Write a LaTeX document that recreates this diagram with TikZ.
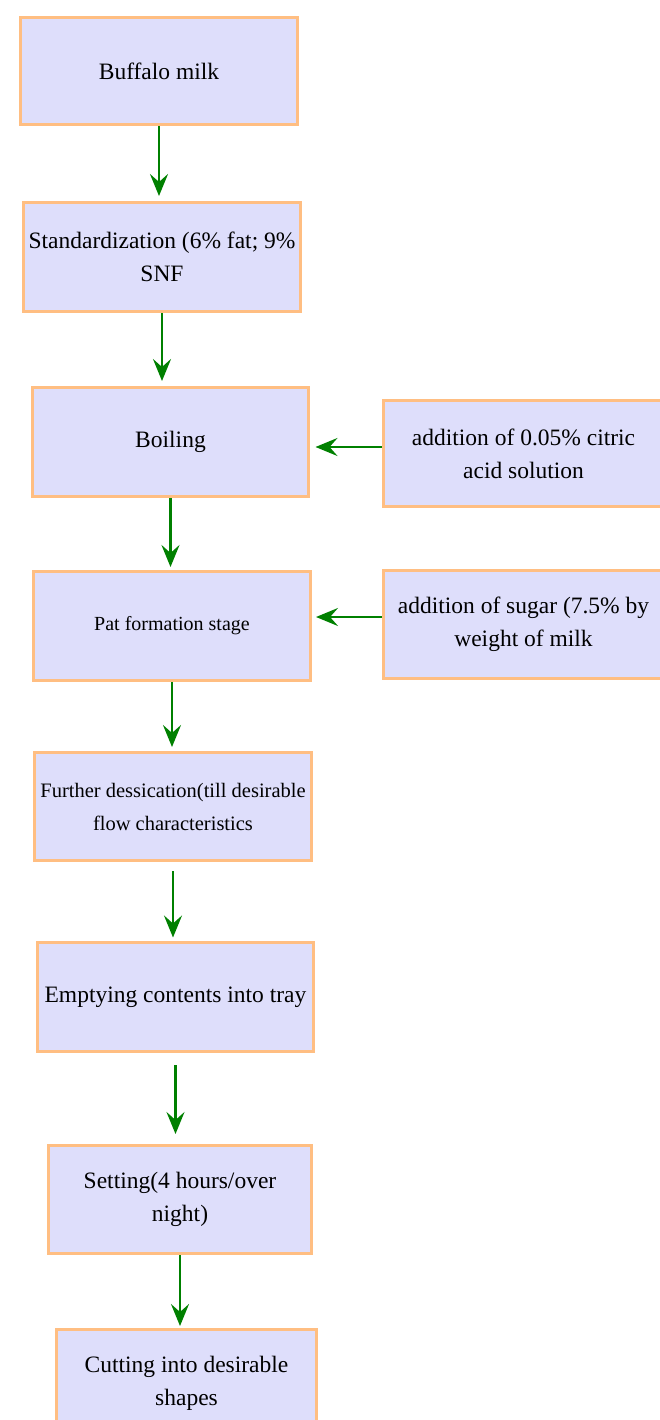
\documentclass[tikz,border=0pt]{standalone}
\usepackage{fontspec}
\setmainfont{Liberation Serif}
\usetikzlibrary{arrows.meta}
\definecolor{boxfill}{RGB}{222,222,251}
\definecolor{boxline}{RGB}{255,190,130}
\definecolor{arrgreen}{RGB}{0,128,0}
\begin{document}
\begin{tikzpicture}[x=1pt,y=-1pt,
  stage/.style={draw=boxline, line width=3pt, fill=boxfill, rectangle, inner sep=0pt,
    align=center, font=\fontsize{23.5}{33}\selectfont},
  arr/.style={draw=arrgreen, line width=2.6pt, -{Stealth[length=22pt,width=18pt,inset=8pt]}}]
\useasboundingbox (0,0) rectangle (660,1420);
\clip (0,0) rectangle (660,1420);

\node[stage, minimum width=277pt, minimum height=107pt] (milk) at (159,71) {Buffalo milk};
\node[stage, minimum width=277pt, minimum height=109pt] (std) at (162,257) {Standardization (6\% fat; 9\%\\SNF};
\node[stage, minimum width=276pt, minimum height=109pt] (boil) at (170.5,442) {Boiling};
\node[stage, minimum width=280pt, minimum height=106pt] (citric) at (523.5,453.5) {addition of 0.05\% citric\\acid solution};
\node[stage, minimum width=277pt, minimum height=109pt, font=\fontsize{20}{26}\selectfont] (pat) at (172,626) {Pat formation stage};
\node[stage, minimum width=280pt, minimum height=108pt] (sugar) at (523.5,624.5) {addition of sugar (7.5\% by\\weight of milk};
\node[stage, minimum width=277pt, minimum height=108pt, font=\fontsize{20.5}{33}\selectfont] (further) at (173,806.5) {Further dessication(till desirable\\flow characteristics};
\node[stage, minimum width=276pt, minimum height=109pt] (empty) at (175.5,997) {Emptying contents into tray};
\node[stage, minimum width=263pt, minimum height=108pt] (setting) at (180,1199.5) {Setting(4 hours/over\\night)};
\node[stage, minimum width=260pt, minimum height=107pt] (cut) at (186.5,1383) {Cutting into desirable\\shapes};

\draw[arr, shorten >=5pt] (milk.south) -- (milk.south |- std.north);
\draw[arr, shorten >=5pt] (std.south) -- (std.south |- boil.north);
\draw[arr, shorten >=3pt] (boil.south) -- (boil.south |- pat.north);
\draw[arr, shorten >=4pt] (pat.south) -- (pat.south |- further.north);
\draw[arr, shorten <=9pt, shorten >=3.5pt] (further.south) -- (further.south |- empty.north);
\draw[arr, shorten <=12pt, shorten >=10pt] (empty.south) -- (empty.south |- setting.north);
\draw[arr, shorten >=2pt] (setting.south) -- (setting.south |- cut.north);
\draw[arr, shorten >=5.5pt] ([yshift=6.5pt]citric.west) -- ([yshift=6.5pt]citric.west -| boil.east);
\draw[arr, shorten >=4pt] ([yshift=7.5pt]sugar.west) -- ([yshift=7.5pt]sugar.west -| pat.east);
\end{tikzpicture}
\end{document}
